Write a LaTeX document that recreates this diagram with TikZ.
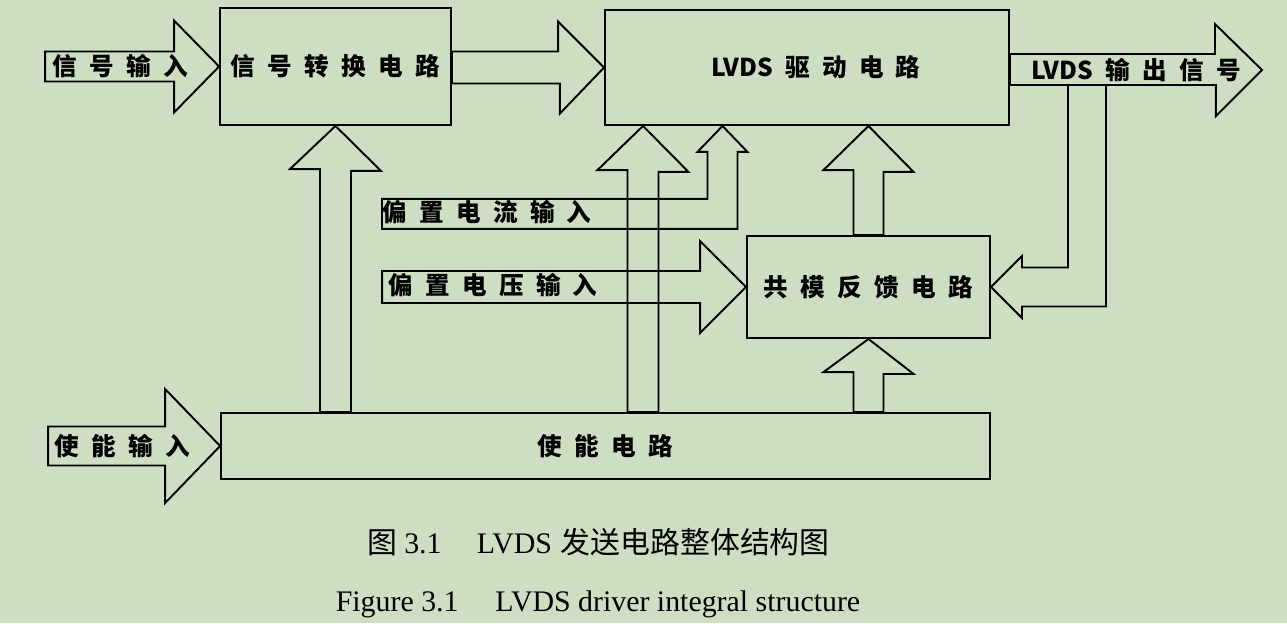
\documentclass[tikz,border=0pt]{standalone}
\usepackage{fontspec}
\setmainfont{Liberation Serif}
\newfontfamily\cjk{Noto Sans CJK SC}
\newcommand\widesp{\spaceskip=7pt\relax}
\definecolor{bgpaper}{RGB}{205,222,194}
\tikzset{
  blk/.style={draw, line width=1.1pt, inner sep=0pt},
  barrow/.style={draw, line width=1.1pt, line join=miter},
  lbl/.style={inner sep=0pt, font=\cjk\bfseries\fontsize{14}{16}\selectfont\widesp},
  figcap/.style={anchor=base, inner sep=0pt, font=\fontsize{17}{20}\selectfont}
}
\begin{document}
\begin{tikzpicture}[x=0.02cm, y=-0.02cm]
    \fill[bgpaper] (0,0) rectangle (1287,623);
    \useasboundingbox (0,0) rectangle (1287,623);
    % blocks
    \node[blk, lbl, minimum width=4.62cm, minimum height=2.34cm] (sig) at (335.5,66.5) {信 号 转 换 电 路};
    \node[blk, lbl, minimum width=8.08cm, minimum height=2.30cm] (drv) at (807,67.5) {\hspace{10pt}LVDS 驱 动 电 路};
    \node[blk, lbl, minimum width=4.86cm, minimum height=2.04cm] (cmfb) at (868.5,287) {共 模 反 馈 电 路};
    \node[blk, lbl, minimum width=15.38cm, minimum height=1.32cm] (en) at (605.5,446) {使 能 电 路};
    % inputs and output
    \draw[barrow] (sig.west) -- ++(-45,-46) -- ++(0,31) -- ++(-129,0) -- ++(0,30) -- ++(129,0) -- ++(0,31) -- cycle;
    \node[lbl] (sigin) at (120,66) {信 号 输 入};
    \draw[barrow] (en.west) -- ++(-55,-57) -- ++(0,37.5) -- ++(-117,0) -- ++(0,39) -- ++(117,0) -- ++(0,37.5) -- cycle;
    \node[lbl] (enin) at (122,446) {使 能 输 入};
    \coordinate (out) at (1262,70);
    \draw[barrow] (out) -- ++(-47,-46) -- ++(0,30) -- (drv.east |- 0,54) -- (drv.east |- 0,85) -- ++(206,0) -- ++(0,31) -- cycle;
    \node[lbl] (outlbl) at (1136,70) {LVDS 输 出 信 号};
    % bias
    \draw[barrow] (cmfb.west) -- ++(-46,-46) -- ++(0,30) -- ++(-318,0) -- ++(0,32) -- ++(318,0) -- ++(0,30) -- cycle;
    \node[lbl] (vbias) at (493,285) {偏 置 电 压 输 入};
    \draw[barrow] (722.5,0 |- drv.south) -- ++(25,26) -- ++(-10,0) -- ++(0,77) -- ++(-355.5,0) -- ++(0,-30) -- ++(325.5,0) -- ++(0,-47) -- ++(-10,0) -- cycle;
    \node[lbl] (ibias) at (487,212) {偏 置 电 流 输 入};
    % block to block
    \draw[barrow] (drv.west) -- ++(-46,-46) -- ++(0,30) -- (sig.east |- 0,51.5) -- (sig.east |- 0,83.5) -- ++(108,0) -- ++(0,30) -- cycle;
    \draw[barrow] (sig.south) -- ++(45.5,45) -- ++(-30,0) -- (351,0 |- en.north) -- (320,0 |- en.north) -- ++(0,-243) -- ++(-30,0) -- cycle;
    \draw[barrow] (643,0 |- drv.south) -- ++(45.5,46) -- ++(-30,0) -- (658.5,0 |- en.north) -- (627.5,0 |- en.north) -- ++(0,-242) -- ++(-30,0) -- cycle;
    \draw[barrow] (drv.south -| cmfb.north) -- ++(45,46) -- ++(-30,0) -- (883.5,0 |- cmfb.north) -- (853.5,0 |- cmfb.north) -- ++(0,-65) -- ++(-30,0) -- cycle;
    \draw[barrow] (cmfb.south) -- ++(45,35) -- ++(-30,0) -- (883.5,0 |- en.north) -- (853.5,0 |- en.north) -- ++(0,-40) -- ++(-30,0) -- cycle;
    % common mode feedback
    \draw[barrow] (1068,85) -- (1068,267.5) -- (1022,267.5) -- (1022,256) -- (cmfb.east) -- (1022,318) -- (1022,306.5) -- (1106,306.5) -- (1106,85);
    % captions
    \node[figcap] (capcn) at (598.5,553) {{\cjk 图}\hspace{4pt}3.1\hspace{20pt}LVDS\hspace{5pt}{\cjk 发送电路整体结构图}};
    \node[figcap] (capen) at (598,611) {Figure 3.1\hspace{21pt}LVDS driver integral structure};
\end{tikzpicture}
\end{document}
